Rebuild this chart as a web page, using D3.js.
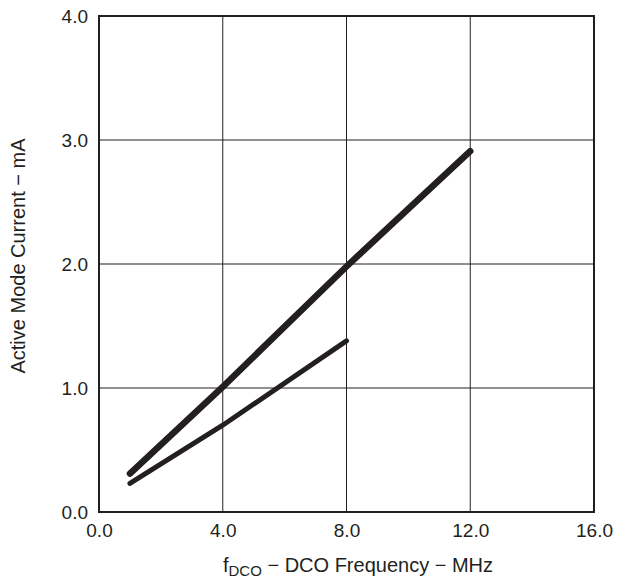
<!DOCTYPE html>
<html>
<head>
<meta charset="utf-8">
<script src="https://cdn.jsdelivr.net/npm/d3@7"></script>
<style>
  html, body { margin: 0; padding: 0; background: #fff; }
  svg { display: block; }
  text { font-family: "Liberation Sans", Arial, sans-serif; fill: #231f20; }
</style>
</head>
<body>
<svg id="chart" width="626" height="583"></svg>
<script>
// Active-mode supply current versus DCO frequency, two supply conditions
const freqHigh = [1, 4, 8, 12];               // MHz
const currentHigh = [0.31, 1.01, 1.98, 2.91]; // mA
const freqLow = [1, 4, 8];                    // MHz
const currentLow = [0.23, 0.70, 1.38];        // mA

const xTicks = [0, 4, 8, 12, 16];
const yTicks = [0, 1, 2, 3, 4];

const margin = { left: 99, top: 16, right: 32, bottom: 71 };
const W = 626, H = 583;
const svg = d3.select("#chart");
const ink = "#231f20";

const x = d3.scaleLinear().domain([0, 16]).range([margin.left, W - margin.right]);
const y = d3.scaleLinear().domain([0, 4]).range([H - margin.bottom, margin.top]);

// grid lines
const grid = svg.append("g");
grid.selectAll("line.vx").data(xTicks.slice(1, -1)).join("line")
  .attr("x1", d => x(d)).attr("x2", d => x(d))
  .attr("y1", y(0)).attr("y2", y(4))
  .attr("stroke", ink).attr("stroke-width", 1);
grid.selectAll("line.hy").data(yTicks.slice(1, -1)).join("line")
  .attr("y1", d => y(d)).attr("y2", d => y(d))
  .attr("x1", x(0)).attr("x2", x(16))
  .attr("stroke", ink).attr("stroke-width", 1);

// axes with labels only (frame drawn separately)
const xAxis = d3.axisBottom(x).tickValues(xTicks).tickSize(0).tickPadding(12)
  .tickFormat(d3.format(".1f"));
const yAxis = d3.axisLeft(y).tickValues(yTicks).tickSize(0).tickPadding(11)
  .tickFormat(d3.format(".1f"));

const gx = svg.append("g").attr("transform", `translate(0,${y(0)})`).call(xAxis);
const gy = svg.append("g").attr("transform", `translate(${x(0)},0)`).call(yAxis);
[gx, gy].forEach(g => {
  g.select(".domain").remove();
  g.selectAll("text").style("font-family", '"Liberation Sans", Arial, sans-serif')
    .style("font-size", "19px").attr("fill", ink);
});

// plot frame
svg.append("rect")
  .attr("x", x(0)).attr("y", y(4))
  .attr("width", x(16) - x(0)).attr("height", y(0) - y(4))
  .attr("fill", "none").attr("stroke", ink).attr("stroke-width", 2);

// data lines
const line = d3.line().x(d => x(d[0])).y(d => y(d[1]));
svg.append("path")
  .datum(freqHigh.map((f, i) => [f, currentHigh[i]]))
  .attr("d", line).attr("fill", "none").attr("stroke", ink)
  .attr("stroke-width", 6.5).attr("stroke-linecap", "round");
svg.append("path")
  .datum(freqLow.map((f, i) => [f, currentLow[i]]))
  .attr("d", line).attr("fill", "none").attr("stroke", ink)
  .attr("stroke-width", 5).attr("stroke-linecap", "round");

// axis titles
const xt = svg.append("text")
  .attr("x", 358).attr("y", 572)
  .attr("text-anchor", "middle").style("font-size", "20px");
xt.append("tspan").text("f");
xt.append("tspan").attr("dy", 4).style("font-size", "15px").text("DCO");
xt.append("tspan").attr("dy", -4).text(" \u2212 DCO Frequency \u2212 MHz");

svg.append("text")
  .attr("transform", `translate(25,256) rotate(-90)`)
  .attr("text-anchor", "middle").style("font-size", "20px")
  .text("Active Mode Current \u2212 mA");
</script>
</body>
</html>
